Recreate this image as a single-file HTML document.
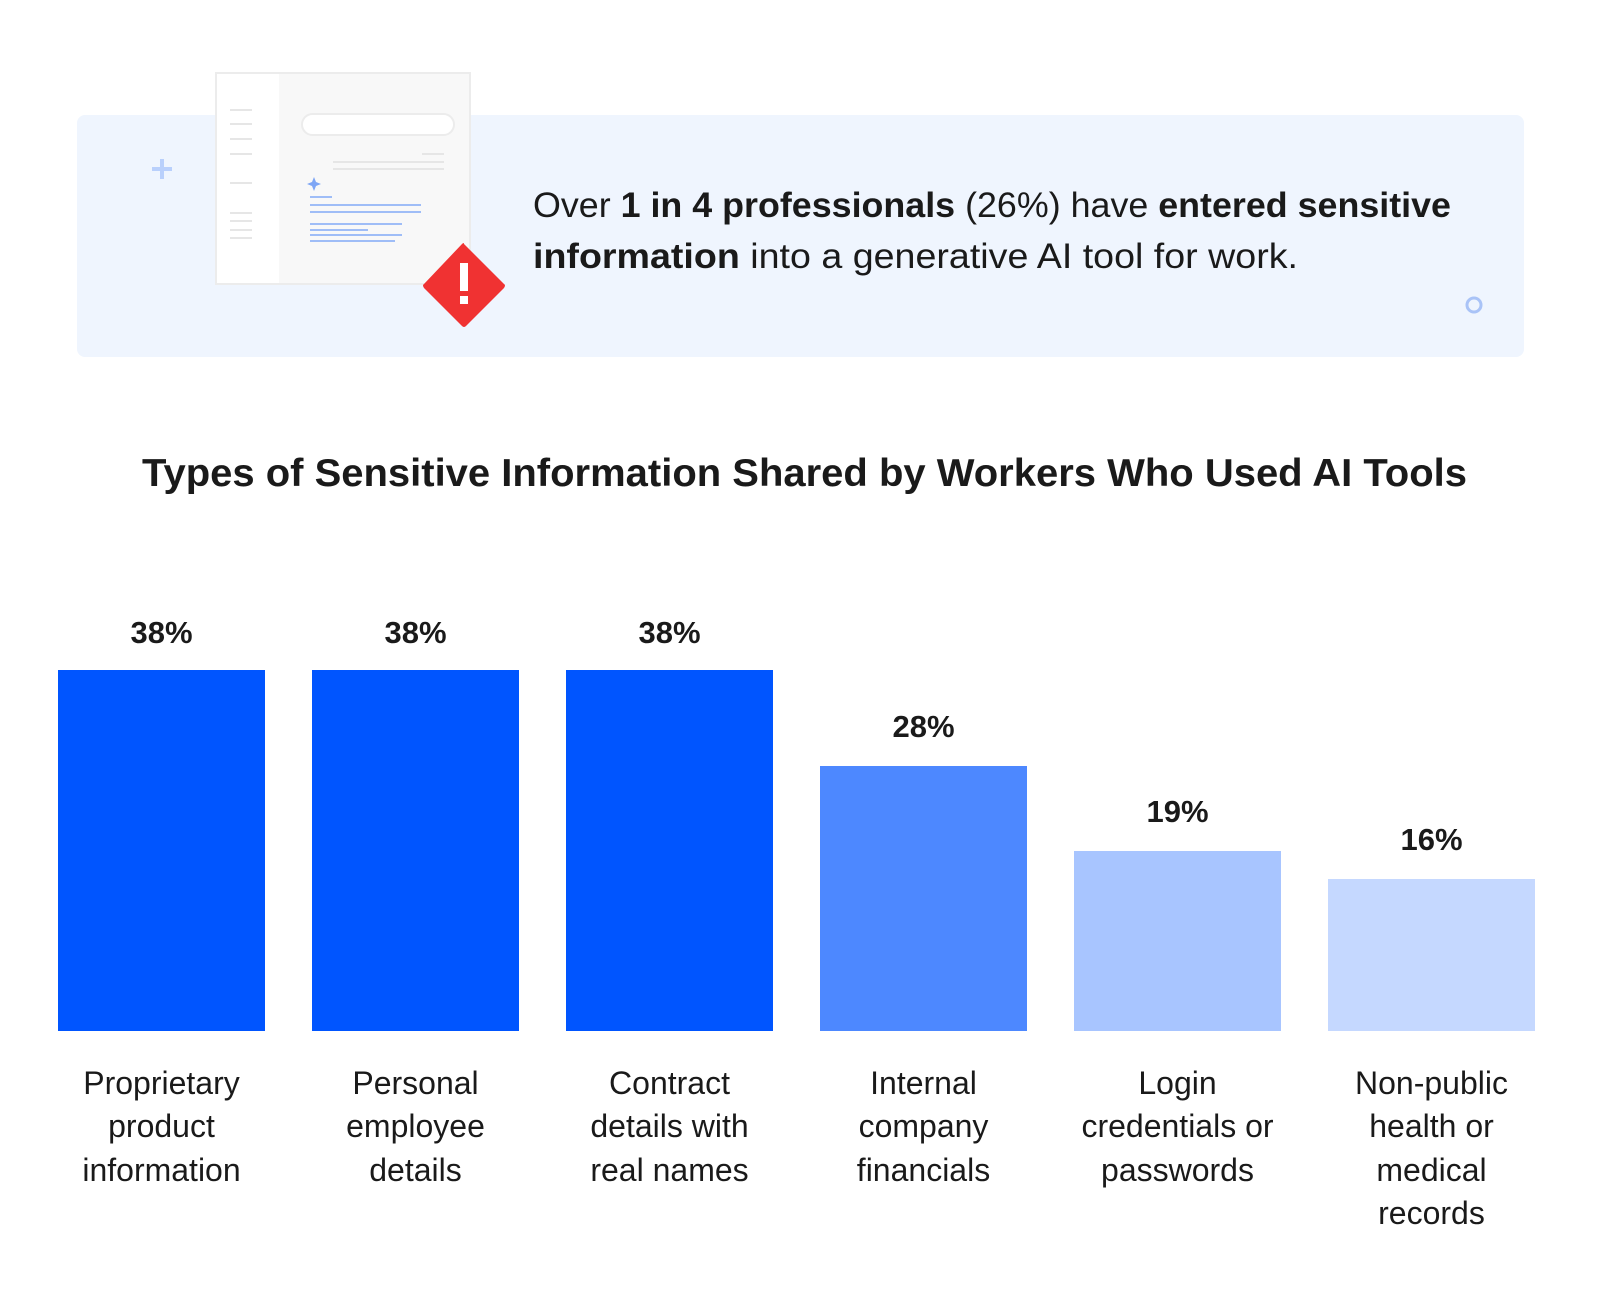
<!DOCTYPE html>
<html><head><meta charset="utf-8"><style>
html,body{margin:0;padding:0;background:#fff}
svg{display:block}
text{font-family:"Liberation Sans",sans-serif;fill:#1a1a1a}
</style></head><body>
<svg width="1600" height="1296" viewBox="0 0 1600 1296">
<rect x="77" y="115" width="1447" height="242" rx="8" fill="#eff5fe"/>
<rect x="152" y="167" width="20" height="4" fill="#b9d0fc"/>
<rect x="160" y="159" width="4" height="20" fill="#b9d0fc"/>
<circle cx="1474" cy="305" r="7" fill="none" stroke="#a9c3f7" stroke-width="3"/>
<rect x="216" y="73" width="254" height="211" fill="#f8f8f8" stroke="#ececec" stroke-width="2"/>
<rect x="217" y="74" width="62" height="209" fill="#fff"/>
<g stroke="#e6e6e6" stroke-width="2">
<line x1="230" y1="110" x2="252" y2="110"/><line x1="230" y1="124" x2="252" y2="124"/>
<line x1="230" y1="139" x2="252" y2="139"/><line x1="230" y1="154" x2="252" y2="154"/>
<line x1="230" y1="183" x2="252" y2="183"/><line x1="230" y1="213" x2="252" y2="213"/>
<line x1="230" y1="221" x2="252" y2="221"/><line x1="230" y1="230" x2="252" y2="230"/>
<line x1="230" y1="238" x2="252" y2="238"/>
<line x1="422" y1="154" x2="444" y2="154"/><line x1="333" y1="162" x2="444" y2="162"/><line x1="333" y1="169" x2="444" y2="169"/>
</g>
<rect x="302" y="114" width="152" height="21" rx="10.5" fill="#fff" stroke="#ececec" stroke-width="2"/>
<g stroke="#9fbdf7" stroke-width="2">
<line x1="310" y1="197" x2="332" y2="197"/><line x1="310" y1="205" x2="421" y2="205"/><line x1="310" y1="212" x2="421" y2="212"/>
<line x1="310" y1="224" x2="402" y2="224"/><line x1="310" y1="230" x2="368" y2="230"/><line x1="310" y1="235" x2="402" y2="235"/><line x1="310" y1="241" x2="395" y2="241"/>
</g>
<path d="M314 177 L316 182 L321 184 L316 186 L314 191 L312 186 L307 184 L312 182Z" fill="#7ea6f5"/>
<path d="M464 244 L504 284 Q506 285 504 288 L466 326 Q464 328 462 326 L424 288 Q422 285 424 284 L462 244 Q464 242 464 244Z" fill="#f03232"/>
<rect x="460" y="263" width="8" height="28" fill="#fff"/>
<rect x="460" y="296" width="8" height="8" fill="#fff"/>
<text x="533" y="217" font-size="35" textLength="918" lengthAdjust="spacingAndGlyphs">Over <tspan font-weight="bold">1 in 4 professionals</tspan> (26%) have <tspan font-weight="bold">entered sensitive</tspan></text>
<text x="533" y="268" font-size="35" textLength="765" lengthAdjust="spacingAndGlyphs"><tspan font-weight="bold">information</tspan> into a generative AI tool for work.</text>
<text x="142" y="486" font-size="39" font-weight="bold" textLength="1325" lengthAdjust="spacingAndGlyphs">Types of Sensitive Information Shared by Workers Who Used AI Tools</text>
<rect x="58" y="670" width="207" height="361" fill="#0055ff"/>
<rect x="312" y="670" width="207" height="361" fill="#0055ff"/>
<rect x="566" y="670" width="207" height="361" fill="#0055ff"/>
<rect x="820" y="766" width="207" height="265" fill="#4d88ff"/>
<rect x="1074" y="851" width="207" height="180" fill="#a8c5ff"/>
<rect x="1328" y="879" width="207" height="152" fill="#c5d8ff"/>
<g font-size="31" font-weight="bold" text-anchor="middle">
<text x="161.5" y="643">38%</text><text x="415.5" y="643">38%</text><text x="669.5" y="643">38%</text>
<text x="923.5" y="737">28%</text><text x="1177.5" y="822">19%</text><text x="1431.5" y="850">16%</text>
</g>
<g font-size="32" text-anchor="middle">
<text x="161.5" y="1094">Proprietary</text><text x="161.5" y="1137">product</text><text x="161.5" y="1181">information</text>
<text x="415.5" y="1094">Personal</text><text x="415.5" y="1137">employee</text><text x="415.5" y="1181">details</text>
<text x="669.5" y="1094">Contract</text><text x="669.5" y="1137">details with</text><text x="669.5" y="1181">real names</text>
<text x="923.5" y="1094">Internal</text><text x="923.5" y="1137">company</text><text x="923.5" y="1181">financials</text>
<text x="1177.5" y="1094">Login</text><text x="1177.5" y="1137">credentials or</text><text x="1177.5" y="1181">passwords</text>
<text x="1431.5" y="1094">Non-public</text><text x="1431.5" y="1137">health or</text><text x="1431.5" y="1181">medical</text><text x="1431.5" y="1224">records</text>
</g>
</svg>
</body></html>
